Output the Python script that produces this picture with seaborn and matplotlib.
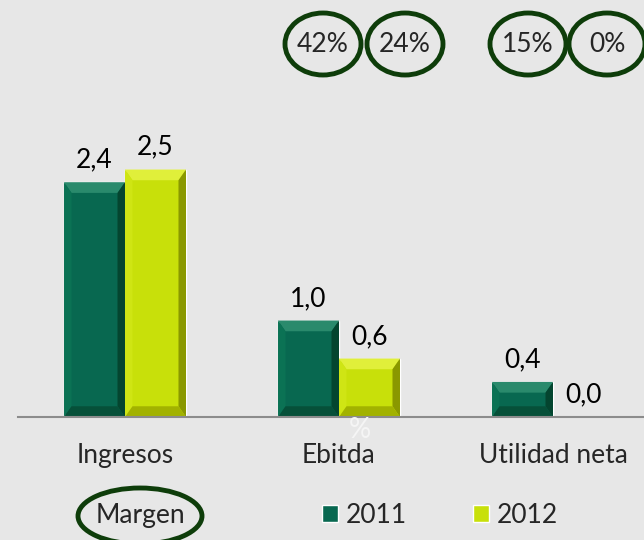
import pandas as pd
import seaborn as sns
import matplotlib.pyplot as plt
from matplotlib.patches import Ellipse, Polygon

# Data
categorias = ["Ingresos", "Ebitda", "Utilidad neta"]
valores_2011 = [2.41, 0.99, 0.36]
valores_2012 = [2.54, 0.60, 0.00]
margenes = ["42%", "24%", "15%", "0%"]
anios = ["2011", "2012"]

df = pd.DataFrame({"categoria": categorias, "2011": valores_2011, "2012": valores_2012})
df = pd.melt(df, id_vars="categoria", value_vars=anios, var_name="anio", value_name="valor")

fondo = "#E7E7E7"
colores = {"2011": "#086850", "2012": "#C8E00A"}
# top, left, right, bottom shades for the bevel
bisel = {
    "2011": ("#2A8A6C", "#0B7254", "#04452F", "#065039"),
    "2012": ("#E0EF3A", "#CFE514", "#8A9800", "#A2B200"),
}
verde_oscuro = "#0E3D0A"
fs = 19

sns.set_style("white")
plt.rcParams["font.family"] = ["Lato", "DejaVu Sans"]

fig = plt.figure(figsize=(6.44, 5.4), dpi=100, facecolor=fondo)
ax = fig.add_axes([18 / 644, 123 / 540, 642 / 644, 417 / 540])
ax.set_facecolor(fondo)

sns.barplot(data=df, x="categoria", y="valor", hue="anio", palette=colores,
            width=0.57, gap=0, saturation=1, ax=ax, order=categorias, hue_order=anios)

ax.set_xlim(-0.5, 2.5)
ax.set_ylim(0, 4.28)

# bevel effect on each bar
dx, dy = 0.035, 0.11
for anio, cont in zip(anios, ax.containers):
    top, left, right, bottom = bisel[anio]
    for p in cont.patches:
        x0, y0 = p.get_x(), p.get_y()
        w, h = p.get_width(), p.get_height()
        if h <= 0:
            continue
        b = min(dy, h / 2)
        x1, y1 = x0 + w, y0 + h
        ax.add_patch(Polygon([(x0, y1), (x1, y1), (x1 - dx, y1 - b), (x0 + dx, y1 - b)], color=top, lw=0))
        ax.add_patch(Polygon([(x0, y0), (x0 + dx, y0 + b), (x0 + dx, y1 - b), (x0, y1)], color=left, lw=0))
        ax.add_patch(Polygon([(x1, y0), (x1, y1), (x1 - dx, y1 - b), (x1 - dx, y0 + b)], color=right, lw=0))
        ax.add_patch(Polygon([(x0, y0), (x1, y0), (x1 - dx, y0 + b), (x0 + dx, y0 + b)], color=bottom, lw=0))

for cont in ax.containers:
    ax.bar_label(cont, labels=[f"{v:.1f}".replace(".", ",") for v in cont.datavalues],
                 padding=7, fontsize=fs, color="black")

# axes styling
sns.despine(ax=ax, left=True, top=True, right=True)
ax.spines["bottom"].set_color("#8C8C8C")
ax.spines["bottom"].set_linewidth(1.5)
ax.set_yticks([])
ax.set_xlabel("")
ax.set_ylabel("")
ax.tick_params(axis="x", which="major", length=0, pad=19, labelsize=fs)
ax.set_xticks([-0.5, 0.5, 1.5, 2.5], minor=True)
ax.tick_params(axis="x", which="minor", length=8, width=1.2, color="#8C8C8C")

# legend
sns.move_legend(ax, "center", bbox_to_anchor=(0.683, 0.046), bbox_transform=fig.transFigure,
                ncol=2, title=None, frameon=False, fontsize=fs, handlelength=0.6,
                handleheight=0.6, handletextpad=0.3, columnspacing=2.5)

# faint % mark
fig.text(360 / 644, 1 - 430 / 540, "%", fontsize=20, color="#F5F5F5", ha="center", va="center")

# margin circles
pos_margen = [323, 405, 528, 607]
for xc, txt in zip(pos_margen, margenes):
    fig.text(xc / 644, 1 - 44 / 540, txt, fontsize=fs, ha="center", va="center")
    fig.add_artist(Ellipse((xc / 644, 1 - 44 / 540), 76 / 644, 62 / 540,
                           transform=fig.transFigure, fill=False, ec=verde_oscuro, lw=3.5))

fig.text(140 / 644, 1 - 516 / 540, "Margen", fontsize=fs, ha="center", va="center")
fig.add_artist(Ellipse((140 / 644, 1 - 516 / 540), 124 / 644, 56 / 540,
                       transform=fig.transFigure, fill=False, ec=verde_oscuro, lw=3.5))

fig.savefig("out.png", dpi=100, facecolor=fondo)
